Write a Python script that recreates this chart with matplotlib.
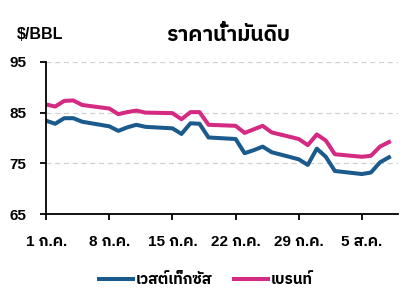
import matplotlib
matplotlib.use("Agg")
import matplotlib.pyplot as plt
import pandas as pd

# trading days, July - August 2024
dates = ["2024-07-01", "2024-07-02", "2024-07-03", "2024-07-04", "2024-07-05",
         "2024-07-08", "2024-07-09", "2024-07-10", "2024-07-11", "2024-07-12",
         "2024-07-15", "2024-07-16", "2024-07-17", "2024-07-18", "2024-07-19",
         "2024-07-22", "2024-07-23", "2024-07-24", "2024-07-25", "2024-07-26",
         "2024-07-29", "2024-07-30", "2024-07-31", "2024-08-01", "2024-08-02",
         "2024-08-05", "2024-08-06", "2024-08-07", "2024-08-08"]

wti = [83.4, 82.8, 83.9, 83.9, 83.2,
       82.3, 81.4, 82.1, 82.6, 82.2,
       81.9, 80.8, 82.9, 82.8, 80.1,
       79.8, 77.0, 77.6, 78.3, 77.2,
       75.8, 74.7, 77.9, 76.3, 73.5,
       72.9, 73.2, 75.2, 76.2]

brent = [86.6, 86.2, 87.3, 87.4, 86.5,
         85.8, 84.7, 85.1, 85.4, 85.0,
         84.9, 83.7, 85.1, 85.1, 82.6,
         82.4, 81.0, 81.7, 82.4, 81.1,
         79.8, 78.6, 80.7, 79.5, 76.8,
         76.3, 76.5, 78.3, 79.2]

tick_dates = ["2024-07-01", "2024-07-08", "2024-07-15", "2024-07-22", "2024-07-29", "2024-08-05"]
tick_labels = ["1 ก.ค.", "8 ก.ค.", "15 ก.ค.", "22 ก.ค.", "29 ก.ค.", "5 ส.ค."]
y_ticks = [65, 75, 85, 95]

FONT = ["Liberation Sans", "IBM Plex Sans Thai", "Noto Sans Thai", "DejaVu Sans"]
plt.rcParams["font.family"] = FONT
plt.rcParams["font.weight"] = "bold"

x = pd.to_datetime(dates)

fig = plt.figure(figsize=(4.12, 2.89), dpi=100)
ax = fig.add_axes([0.112, 0.259, 0.854, 0.527])

ax.plot(x, wti, color="#1b5a8c", lw=2.9, label="เวสต์เท็กซัส", solid_joinstyle="round")
ax.plot(x, brent, color="#d42a83", lw=2.9, label="เบรนท์", solid_joinstyle="round")

ax.set_ylim(65, 95)
ax.set_yticks(y_ticks)
ax.set_xlim(pd.Timestamp("2024-07-01"), pd.Timestamp("2024-08-09"))
ax.set_xticks(pd.to_datetime(tick_dates))
ax.set_xticklabels(tick_labels)

for v in y_ticks[1:]:
    ax.axhline(v, color="#d0d0d0", lw=0.9, ls=(0, (4, 3)), zorder=0)

for s in ["top", "right"]:
    ax.spines[s].set_visible(False)
ax.spines["left"].set_linewidth(1.3)
ax.spines["bottom"].set_linewidth(1.3)
ax.tick_params(axis="both", length=4, width=1.3, labelsize=11, colors="black")
ax.tick_params(axis="x", pad=11)
ax.tick_params(axis="y", pad=10)

fig.text(0.04, 0.88, "$/BBL", fontsize=11.5, fontweight="bold", ha="left", va="center")
fig.text(0.553, 0.878, "ราคาน้ำมันดิบ", fontsize=15, fontweight="bold", ha="center", va="center")

fig.legend(loc="center", bbox_to_anchor=(0.5, 0.031), ncol=2, frameon=False,
           fontsize=11, handlelength=2.2, handletextpad=0.2, columnspacing=1.4,
           borderaxespad=0)

fig.savefig("out.png")
